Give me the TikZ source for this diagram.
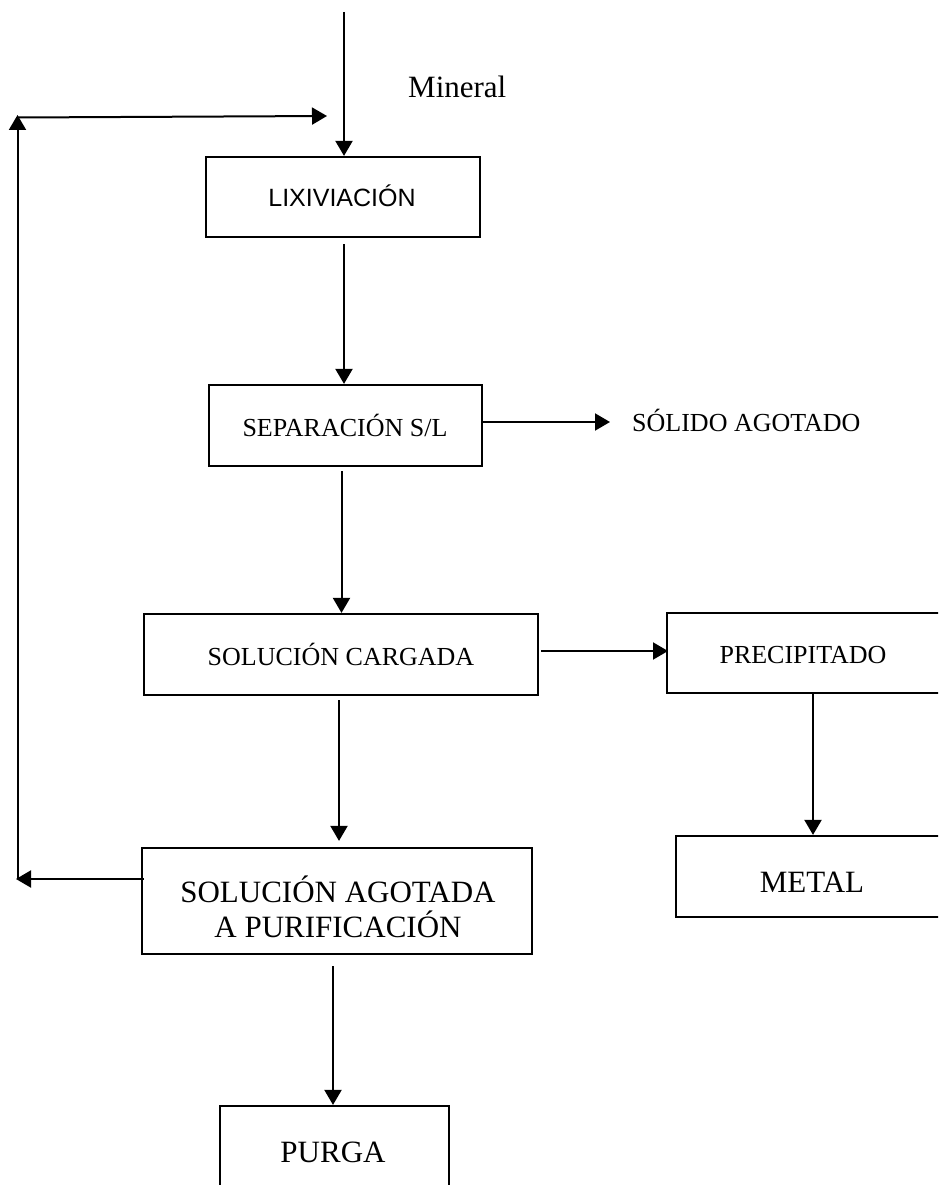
\documentclass[tikz,border=0pt]{standalone}
\usepackage{fontspec}
\setmainfont{Liberation Serif}
\newfontfamily\arialf{Liberation Sans}
\usetikzlibrary{arrows.meta,calc}
\tikzset{
  box/.style={draw=black, line width=2.2pt, rectangle, inner sep=0pt},
  arr/.style={draw=black, line width=2pt, -{Triangle[length=15pt,width=17pt]}},
  lbl/.style={inner sep=0pt, anchor=base, text=black},
  small/.style={font=\fontsize{26}{30}\selectfont},
  big/.style={font=\fontsize{31}{36}\selectfont},
  sans/.style={font=\arialf\fontsize{25}{29}\selectfont}
}
\begin{document}
\begin{tikzpicture}[x=1pt,y=-1pt]
\useasboundingbox (0,0) rectangle (938,1185);
\clip (0,0) rectangle (938,1185);

% boxes
\node[box, minimum width=274pt, minimum height=80pt] (lix) at (343,197) {};
\node[box, minimum width=273pt, minimum height=81pt] (sep) at (345.5,425.5) {};
\node[box, minimum width=394pt, minimum height=81pt] (solc) at (341,654.5) {};
\node[box, minimum width=273pt, minimum height=80pt] (prec) at (803.5,653) {};
\node[box, minimum width=272pt, minimum height=81pt] (metal) at (812,876.5) {};
\node[box, minimum width=390pt, minimum height=106pt] (sola) at (337,901) {};
\node[box, minimum width=229pt, minimum height=110pt] (purga) at (334.5,1161) {};

% texts
\node[lbl, big, anchor=base west] (mint) at (408,98) {Mineral};
\node[lbl, sans] (lixt) at (342,206.7) {LIXIVIACIÓN};
\node[lbl, small] (sept) at (345,436.5) {SEPARACIÓN S/L};
\node[lbl, small, anchor=base west] (solt) at (632,431) {SÓLIDO AGOTADO};
\node[lbl, small] (solct) at (341,665) {SOLUCIÓN CARGADA};
\node[lbl, small] (prect) at (803,663) {PRECIPITADO};
\node[lbl, big] (metalt) at (812,892) {METAL};
\node[lbl, big] (solat1) at (338,902) {SOLUCIÓN AGOTADA};
\node[lbl, big] (solat2) at (338,937) {A PURIFICACIÓN};
\node[lbl, big] (purgat) at (333,1162) {PURGA};

% coordinates
\coordinate (in) at (344,12);
\coordinate (solin) at (610,422);
\coordinate (pa) at (668,651);
\coordinate (pm) at (813,0);
\coordinate (sc) at (341.5,0);
\coordinate (sa) at (339,0);
\coordinate (pg) at (333,0);
\coordinate (lb) at (16,879);
\coordinate (lv) at (17.5,879);
\coordinate (lt) at (17.5,115);
\coordinate (lh) at (18,117.5);
\coordinate (rt) at (327,116);

% connectors
\draw[arr] (in) -- (lix.north -| in);
\draw[arr] ($(lix.south -| in)+(0,6)$) -- (sep.north -| in);
\draw[arr] (sep.east |- solin) -- (solin);
\draw[arr] ($(sep.south -| sc)+(0,4)$) -- (solc.north -| sc);
\draw[arr] ($(solc.east |- pa)+(2,0)$) -- (pa);
\draw[arr] (prec.south -| pm) -- (metal.north -| pm);
\draw[arr] ($(solc.south -| sa)+(0,4)$) -- ($(sola.north -| sa)+(0,-6)$);
\draw[arr] ($(sola.south -| pg)+(0,11)$) -- (purga.north -| pg);
\draw[arr] ($(sola.west |- lb)+(3,0)$) -- (lb);
\draw[arr] (lv) -- (lt);
\draw[arr] (lh) -- (rt);
\end{tikzpicture}
\end{document}
